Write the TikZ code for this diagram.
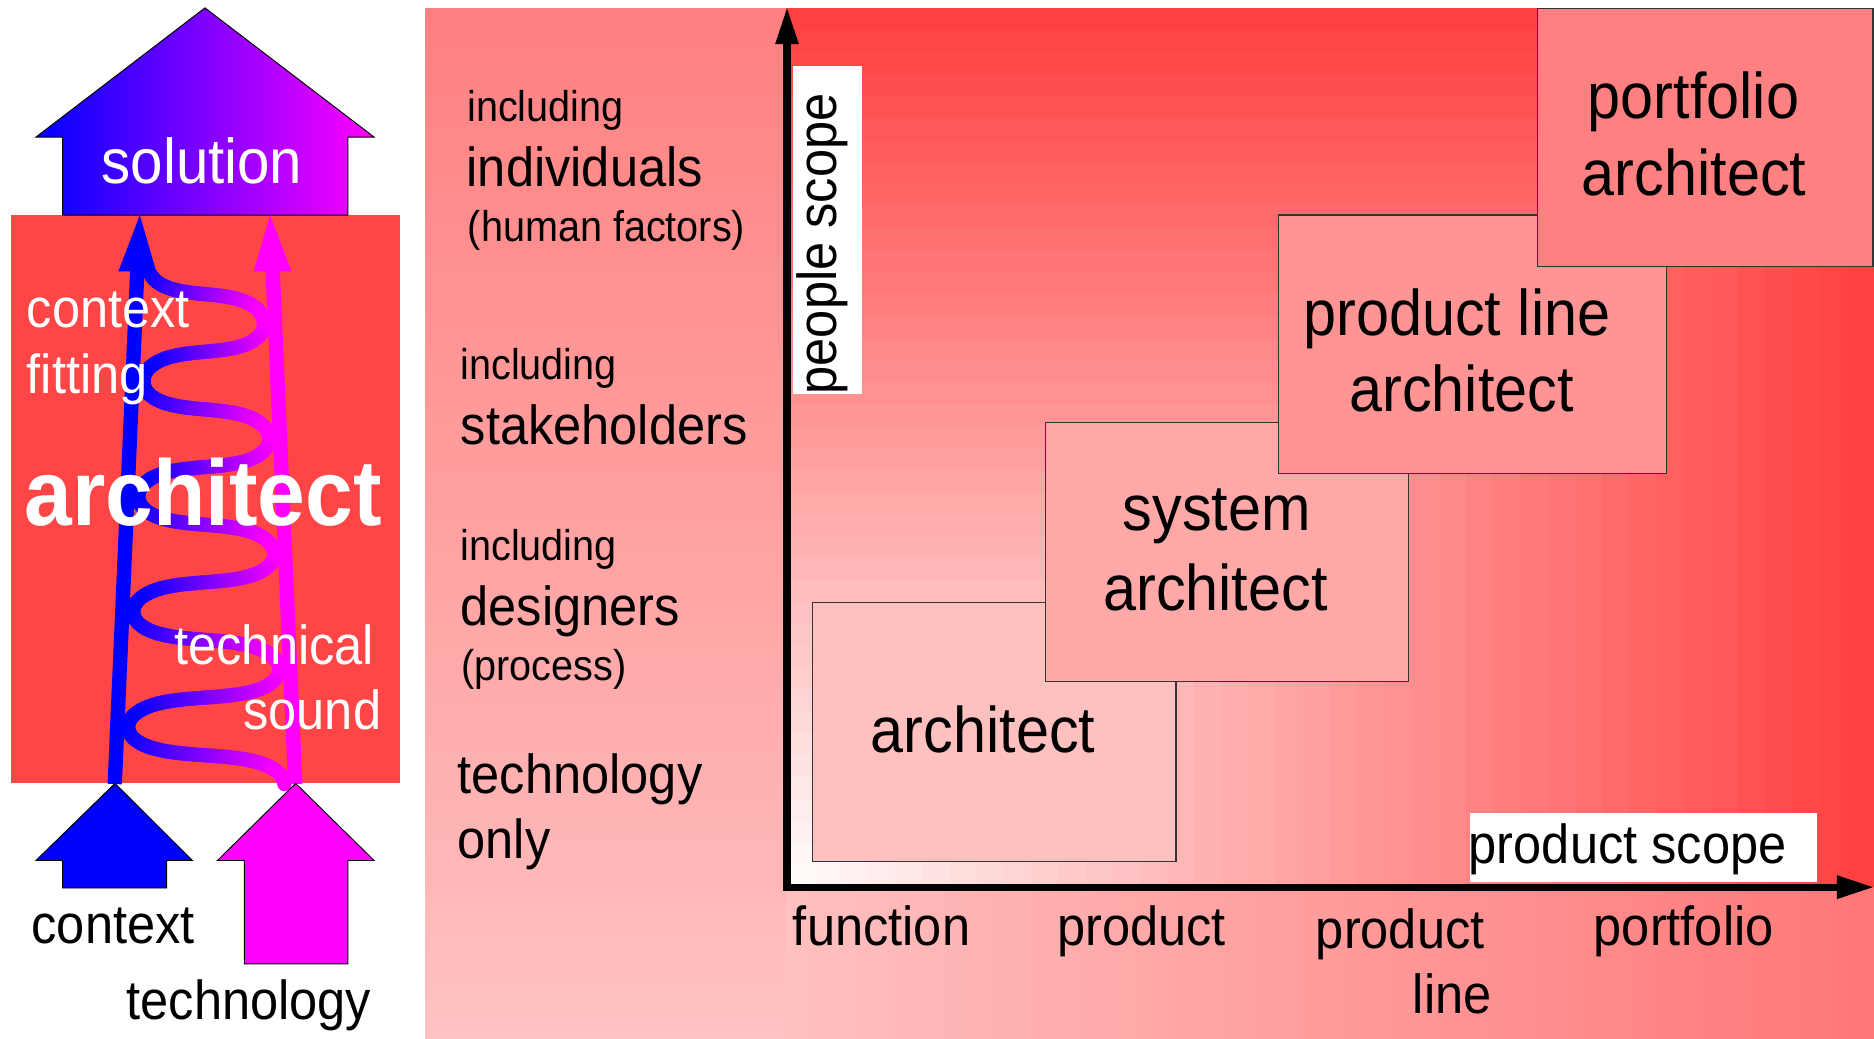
\documentclass[tikz,border=0pt]{standalone}
\usepackage{fontspec}
\setmainfont{Liberation Sans}[FakeStretch=0.92]
\usetikzlibrary{calc}
\definecolor{rred}{RGB}{255,64,64}
\definecolor{archred}{RGB}{255,69,69}
\definecolor{boxA}{RGB}{255,192,192}
\definecolor{boxB}{RGB}{255,168,168}
\definecolor{boxC}{RGB}{255,148,148}
\definecolor{boxD}{RGB}{255,128,128}
\definecolor{colTop}{RGB}{255,128,128}
\definecolor{colBot}{RGB}{255,194,194}
\definecolor{bandR}{RGB}{255,119,119}
\definecolor{ctxblue}{RGB}{0,0,255}
\definecolor{techmag}{RGB}{255,0,255}
\newcommand\fsA{\fontsize{36}{43}\selectfont}
\newcommand\fsB{\fontsize{46}{55}\selectfont}
\newcommand\fsC{\fontsize{53}{64}\selectfont}
\newcommand\fsD{\fontsize{54}{65}\selectfont}
\newcommand\fsE{\fontsize{78}{94}\selectfont\bfseries}
\begin{document}
\begin{tikzpicture}[x=1pt,y=-1pt,
  lw/.style={anchor=base west, inner sep=0pt, outer sep=0pt},
  le/.style={anchor=base east, inner sep=0pt, outer sep=0pt},
  lc/.style={anchor=base, inner sep=0pt, outer sep=0pt},
  rolebox/.style={draw=black!80, line width=1.2pt},
  blockarrow/.style={draw=black, line width=0.8pt},
  axisline/.style={line width=6pt, black},
  wlabel/.style={text=white},
]
\useasboundingbox (0,0) rectangle (1568,869.3);
\fill[white] (0,0) rectangle (1568,869.3);

% ---------------- left part ----------------
\fill[archred] (9.2,180) rectangle (334.7,655.5);

% coil (drawn in many short coloured pieces)
\foreach \i in {0,...,359}{
  \pgfmathsetmacro\ta{0.3+\i*0.077706}
  \pgfmathsetmacro\tb{0.3+(\i+1)*0.077706}
  \pgfmathsetmacro\ya{222+15.35*(\ta+0.35*sin(2*\ta r))}
  \pgfmathsetmacro\yb{222+15.35*(\tb+0.35*sin(2*\tb r))}
  \pgfmathsetmacro\sa{21*(656-\ya)/476}
  \pgfmathsetmacro\sb{21*(656-\yb)/476}
  \pgfmathsetmacro\xa{(105+\sa)+((238-\sa)-(105+\sa))*(1-cos(\ta r))/2}
  \pgfmathsetmacro\xb{(105+\sb)+((238-\sb)-(105+\sb))*(1-cos(\tb r))/2}
  \pgfmathsetmacro\f{50*(1-cos((\ta+\tb)/2 r))}
  \draw[line width=12pt, line cap=round, color=techmag!\f!ctxblue] (\xa,\ya) -- (\xb,\yb);
}

% context line (blue) and technology line (magenta)
\coordinate (cb0) at (96,656);
\coordinate (cb1) at (114.9,226);
\coordinate (ct0) at (247,656);
\coordinate (ct1) at (228.1,226);
\draw[line width=12pt, ctxblue] (cb0) -- (cb1);
\fill[ctxblue] (99.1,227) -- (130.7,227) -- (117,180) -- cycle;
\draw[line width=12pt, techmag] (ct0) -- (ct1);
\fill[techmag] (212.3,227) -- (243.9,227) -- (226,180) -- cycle;

% solution arrow
\shadedraw[left color=ctxblue, right color=techmag, blockarrow]
  (171.5,6.6) -- (313,114.7) -- (291,114.7) -- (291,180) -- (52.4,180)
  -- (52.4,114.7) -- (30.1,114.7) -- cycle;
% input arrows
\filldraw[fill=ctxblue, blockarrow]
  (96.2,655.5) -- (161,720) -- (139.5,720) -- (139.5,743) -- (52.4,743)
  -- (52.4,720) -- (30.1,720) -- cycle;
\filldraw[fill=techmag, blockarrow]
  (247.4,655.5) -- (313,720) -- (291,720) -- (291,806.5) -- (204.5,806.5)
  -- (204.5,720) -- (181.9,720) -- cycle;

\node[lc, wlabel] (solution) at (169,153.5) {\fsC solution};
\node[lw, wlabel] (ctxfit1) at (22.5,274) {\fsB context};
\node[lw, wlabel] (ctxfit2) at (22.5,329.6) {\fsB fitting};
\node[lc, wlabel] (bigarch) at (170,439.3) {\fsE architect};
\node[le, wlabel] (techs1) at (313,555.6) {\fsB technical};
\node[le, wlabel] (techs2) at (319,610) {\fsB sound};
\node[lw] (context) at (26.5,789.5) {\fsB context};
\node[lw] (technology) at (106,853) {\fsB technology};

% ---------------- right part ----------------
% left column
\shade[top color=colTop, bottom color=colBot] (356,7) rectangle (658,869.3);
% band below the x axis
\shade[left color=boxA, right color=bandR] (658,742.3) rectangle (1568,869.3);
% plot area: nested L-shaped steps from white (origin) to red
\foreach \j in {40,39,...,1}{
  \pgfmathsetmacro\t{\j/40}
  \pgfmathsetmacro\p{100*\t}
  \fill[rred!\p!white] (658,742.3) rectangle ($(658,742.3)+(910*\t,-735.3*\t)$);
}

% role boxes
\filldraw[fill=boxA, rolebox] (680,504) rectangle (984,721);
\filldraw[fill=boxB, rolebox] (875,353.4) rectangle (1178.3,570);
\filldraw[fill=boxC, rolebox] (1069.7,180) rectangle (1394.5,396.1);
\filldraw[fill=boxD, rolebox] (1286.3,7) rectangle (1567.2,223);

% white label backgrounds
\fill[white] (663.3,55) rectangle (721.3,330);
\fill[white] (1229.7,680.5) rectangle (1519.9,737.7);

% axes
\coordinate (O) at (658.5,742.3);
\coordinate (Ytop) at (658.5,36);
\coordinate (Ytip) at (658.5,7);
\coordinate (Xend) at (1538,742.3);
\coordinate (Xtip) at (1567,742.3);
\draw[axisline] (658.5,745.3) -- (Ytop);
\draw[axisline] (655.5,742.3) -- (Xend);
\fill[black] (648.5,37) -- (668.5,37) -- (Ytip) -- cycle;
\fill[black] (1537,732.3) -- (1537,752.3) -- (Xtip) -- cycle;

% axis labels
\node[lc, rotate=90] (pscope) at (699.6,204) {\fsB people scope};
\node[lw] (prscope) at (1229,722.8) {\fsB product scope};
\node[lw] (xfunction) at (663.5,790.8) {\fsB function};
\node[lw] (xproduct) at (884.5,790.8) {\fsB product};
\node[lw] (xpline1) at (1101,793.6) {\fsB product};
\node[le] (xpline2) at (1248,848) {\fsB line};
\node[lw] (xportfolio) at (1333.5,790.8) {\fsB portfolio};

% column texts
\node[lw] (inc1) at (391,101.8) {\fsA including};
\node[lw] (indiv) at (390.5,156.3) {\fsB individuals};
\node[lw] (human) at (391.5,202.4) {\fsA (human factors)};
\node[lw] (inc2) at (385.3,317.6) {\fsA including};
\node[lw] (stake) at (385.5,372.1) {\fsB stakeholders};
\node[lw] (inc3) at (385.3,468.6) {\fsA including};
\node[lw] (design) at (385.5,523) {\fsB designers};
\node[lw] (process) at (386,569) {\fsA (process)};
\node[lw] (techonly1) at (383,663.9) {\fsB technology};
\node[lw] (techonly2) at (383,718.3) {\fsB only};

% role box texts
\node[lc] (arch) at (822.6,629.9) {\fsD architect};
\node[lc] (sys1) at (1018,444.1) {\fsD system};
\node[lc] (sys2) at (1017,510.5) {\fsD architect};
\node[lc] (pl1) at (1219,280.3) {\fsD product line};
\node[lc] (pl2) at (1223,344.5) {\fsD architect};
\node[lc] (pf1) at (1417,99) {\fsD portfolio};
\node[lc] (pf2) at (1417.5,163.2) {\fsD architect};
\end{tikzpicture}
\end{document}
